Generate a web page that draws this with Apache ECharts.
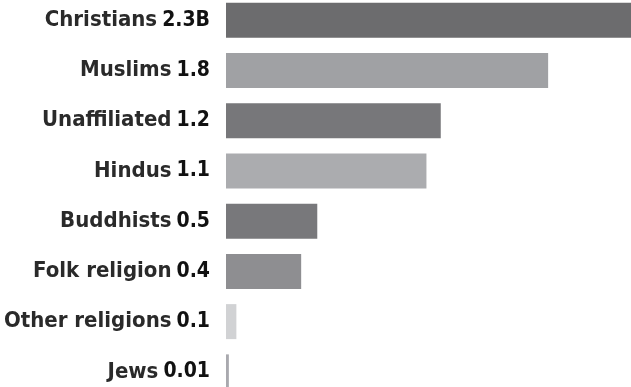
<!DOCTYPE html>
<html>
<head>
<meta charset="utf-8">
<script src="https://cdn.jsdelivr.net/npm/echarts@6/dist/echarts.min.js"></script>
<style>html,body{margin:0;padding:0;background:#fff;}#c{width:631px;height:387px;}</style>
</head>
<body>
<div id="c"></div>
<script>
const categories = ['Christians', 'Muslims', 'Unaffiliated', 'Hindus', 'Buddhists', 'Folk religion', 'Other religions', 'Jews'];
const valueLabels = ['2.3B', '1.8', '1.2', '1.1', '0.5', '0.4', '0.1', '0.01'];
const values = [2.3, 1.8, 1.2, 1.12, 0.51, 0.42, 0.058, 0.016];
const colors = ['#6c6c6e', '#a0a1a4', '#77777a', '#abacaf', '#78787b', '#8e8e91', '#d1d2d4', '#a9a9ae'];

const chart = echarts.init(document.getElementById('c'), null, {renderer: 'canvas'});
const FONT = '"Liberation Sans Narrow", "DejaVu Sans Condensed", "Roboto Condensed", sans-serif';
chart.setOption({
  animation: false,
  backgroundColor: '#fff',
  grid: {left: 226, right: 0, top: -5, height: 402, containLabel: false, outerBoundsMode: 'none'},
  xAxis: {type: 'value', min: 0, max: 2.263, show: false},
  yAxis: {
    type: 'category',
    inverse: true,
    data: categories,
    axisLine: {show: false},
    axisTick: {show: false},
    axisLabel: {
      margin: 16,
      formatter: function (v, i) { return '{a|' + v + '}{b|' + valueLabels[i] + '}'; },
      rich: {
        a: {fontFamily: FONT, fontSize: 22, fontWeight: 'bold', color: '#2a2a2a'},
        b: {fontFamily: FONT, fontSize: 21, fontWeight: 'bold', color: '#111', padding: [0, 0, 0, 5]}
      }
    }
  },
  series: [{
    type: 'bar',
    barWidth: 35,
    clip: true,
    data: values.map((v, i) => ({value: v, itemStyle: {color: colors[i]}}))
  }]
});
</script>
</body>
</html>
